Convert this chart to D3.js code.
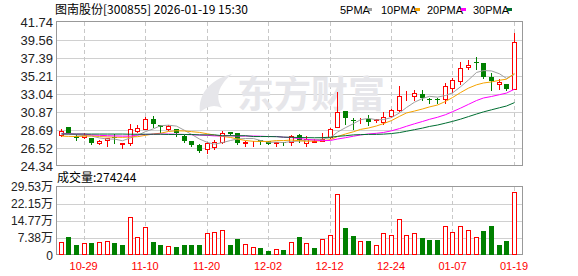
<!DOCTYPE html>
<html>
<head>
<meta charset="utf-8">
<script src="https://cdn.jsdelivr.net/npm/d3@7/dist/d3.min.js"></script>
<style>
body { margin: 0; background: #fff; }
svg { display: block; }
</style>
</head>
<body>
<div id="chart"></div>
<script>
// trading days shown
var dates = ["10-24","10-27","10-28","10-29","10-30","10-31","11-03","11-04","11-05","11-06",
    "11-07","11-10","11-11","11-12","11-13","11-14","11-17","11-18","11-19","11-20",
    "11-21","11-24","11-25","11-26","11-27","11-28","12-01","12-02","12-03","12-04",
    "12-05","12-08","12-09","12-10","12-11","12-12","12-15","12-16","12-17","12-18",
    "12-19","12-22","12-23","12-24","12-25","12-26","12-29","12-30","12-31","01-05",
    "01-06","01-07","01-08","01-09","01-12","01-13","01-14","01-15","01-16","01-19"];

var open = [28.11,29.00,28.00,27.82,27.75,27.10,27.50,27.80,27.00,27.09,
    28.55,28.84,29.97,29.33,28.80,28.80,27.94,27.42,26.85,26.36,
    26.69,27.30,28.40,28.30,27.09,27.20,27.46,27.38,27.07,27.25,
    27.21,28.11,27.06,27.30,27.42,27.82,29.10,30.94,29.90,29.85,
    30.00,29.85,29.64,30.41,31.15,32.88,32.85,33.08,32.40,32.40,
    32.48,33.82,34.66,36.30,36.90,36.80,35.10,34.30,34.20,33.69];
var high = [28.88,29.05,28.35,28.47,27.75,27.60,27.75,28.27,27.20,29.48,
    29.36,30.37,30.49,29.45,29.36,28.90,28.23,27.42,27.06,27.42,
    27.60,28.72,28.50,28.40,27.50,27.54,27.60,27.40,27.42,27.38,
    28.23,28.35,28.10,27.70,28.45,29.00,33.40,31.06,30.25,30.30,
    30.65,30.15,30.94,31.39,34.10,33.57,33.60,33.70,32.70,32.70,
    34.50,35.10,37.00,37.25,37.65,36.85,35.70,35.00,34.40,40.49];
var low = [27.95,28.30,27.50,27.75,26.97,26.97,26.73,27.10,26.50,26.93,
    28.39,28.76,29.03,28.43,28.63,27.94,27.21,26.73,26.00,25.96,
    26.40,27.09,28.06,26.97,26.70,26.81,27.00,26.97,26.81,26.90,
    26.93,27.21,26.81,27.20,27.35,27.70,29.00,29.45,28.84,29.50,
    29.24,29.60,29.36,30.25,30.97,32.27,32.27,32.27,31.90,31.90,
    31.99,33.28,34.30,36.12,36.12,35.00,33.50,33.60,33.50,33.60];
var close = [28.60,28.30,27.75,28.06,27.10,27.42,27.75,27.70,27.10,28.84,
    28.88,29.97,29.36,29.00,29.16,28.30,27.42,26.90,26.21,27.09,
    27.30,28.35,28.16,27.09,27.25,27.30,27.18,27.02,27.20,27.15,
    27.94,27.50,27.55,27.40,27.60,28.84,30.86,30.13,29.85,29.95,
    29.70,29.97,30.29,31.06,32.76,32.96,33.16,32.55,32.35,32.30,
    33.97,34.70,36.24,36.50,36.80,35.10,34.60,34.50,33.70,39.28];

// shares
var volume = [54800,77800,43000,50000,52000,55000,59000,52000,43000,163000,
    78000,121000,56000,43000,39000,36000,43000,43000,43000,94000,
    102000,107000,43000,69000,46000,33000,30000,17000,24500,21600,
    55000,78000,50000,30000,69000,89000,267000,117000,82000,60500,
    60500,43000,94000,89000,156000,85000,94000,73500,65000,65000,
    124000,102000,128000,107000,78000,104000,125000,43000,60500,274244];

var ma5 = [28.30,28.25,28.10,28.00,27.96,27.73,27.60,27.59,27.39,27.74,
    28.03,28.50,28.83,29.21,29.27,29.16,28.65,28.16,27.60,27.18,
    26.98,27.17,27.42,27.60,27.66,27.66,27.42,27.20,27.22,27.17,
    27.30,27.36,27.46,27.50,27.59,27.77,28.44,28.97,29.46,29.93,
    30.10,29.92,29.95,30.19,30.76,31.41,32.05,32.50,32.76,32.66,
    32.87,33.17,33.91,34.74,35.64,35.87,35.83,35.48,34.92,35.42];
var ma10 = [27.95,27.92,27.90,27.95,27.98,27.90,27.85,27.82,27.80,27.85,
    27.88,28.05,28.21,28.30,28.51,28.60,28.57,28.49,28.40,28.23,
    28.07,27.91,27.79,27.60,27.42,27.32,27.30,27.31,27.41,27.41,
    27.48,27.39,27.33,27.36,27.38,27.53,27.90,28.21,28.48,28.76,
    28.93,29.18,29.46,29.83,30.34,30.75,30.98,31.23,31.48,31.71,
    32.14,32.61,33.21,33.75,34.15,34.37,34.50,34.70,34.83,35.53];
var ma20 = [28.22,28.22,28.20,28.20,28.10,28.05,28.00,27.98,27.95,27.95,
    28.10,28.15,28.18,28.20,28.20,28.18,28.15,28.12,28.08,28.04,
    27.98,27.98,28.00,27.95,27.96,27.96,27.94,27.90,27.91,27.82,
    27.77,27.65,27.56,27.48,27.40,27.43,27.60,27.76,27.94,28.09,
    28.21,28.29,28.39,28.59,28.86,29.14,29.44,29.72,29.98,30.23,
    30.54,30.90,31.33,31.79,32.25,32.56,32.74,32.96,33.15,33.62];
var ma30 = [28.20,28.20,28.20,28.20,28.20,28.20,28.20,28.20,28.20,28.18,
    28.18,28.18,28.18,28.18,28.15,28.15,28.15,28.15,28.10,28.10,
    28.10,28.00,28.00,28.00,28.00,27.90,27.90,27.90,27.88,27.83,
    27.81,27.78,27.77,27.75,27.77,27.82,27.92,28.00,28.10,28.13,
    28.16,28.16,28.19,28.26,28.38,28.54,28.73,28.92,29.12,29.29,
    29.52,29.73,30.00,30.31,30.62,30.88,31.13,31.38,31.59,32.00];

var dateTicks = ["10-29","11-10","11-20","12-02","12-12","12-24","01-07","01-19"];
var priceTicks = [24.34,26.52,28.69,30.87,33.04,35.21,37.39,39.56,41.74];
var volTicks = [0,73825,147650,221475,295300];
var volTickLabels = ["0","7.38万","14.77万","22.15万","29.53万"];

var svgWidth = 578, svgHeight = 276;
var left = 56, right = 522;
var pTop = 22, pBot = 166;
var vTop = 187, vBot = 255;

var RED = "#ff0000", GREEN = "#008000";
var maColors = ["#a0a0a0", "#f5a300", "#ff00ff", "#006e32"];

var svg = d3.select("#chart").append("svg")
    .attr("width", svgWidth)
    .attr("height", svgHeight)
    .style("font-family", "'Liberation Sans', 'Noto Sans CJK SC', sans-serif");

var x = d3.scaleBand()
    .domain(dates)
    .range([56.7, 517.8])
    .paddingInner(0.35)
    .paddingOuter(0.175);
var y = d3.scaleLinear().domain([24.34, 41.74]).range([pBot, pTop]);
var yv = d3.scaleLinear().domain([0, 295300]).range([vBot, vTop]);

function cx(d) { return Math.round(x(d) + x.bandwidth() / 2); }
function py(v) { return Math.round(v) + 0.5; }

var rows = dates.map(function (d, i) {
    return { date: d, o: open[i], h: high[i], l: low[i], c: close[i], v: volume[i],
        up: close[i] >= open[i],
        vup: i === 0 ? close[i] >= open[i] : close[i] >= close[i - 1] };
});

// title + legend
svg.append("text")
    .attr("x", 55).attr("y", 14)
    .style("font-family", "'Noto Sans CJK SC', sans-serif")
    .style("font-size", "12px")
    .attr("fill", "#000")
    .text("图南股份[300855] 2026-01-19 15:30");

var legendNames = ["5PMA", "10PMA", "20PMA", "30PMA"];
var legendX = [340, 381, 427, 473];
var legendBox = [367, 415, 461, 507];
legendNames.forEach(function (n, i) {
    svg.append("text")
        .attr("x", legendX[i]).attr("y", 14)
        .style("font-size", "11px")
        .attr("fill", "#000")
        .text(n);
    svg.append("rect")
        .attr("x", legendBox[i]).attr("y", 8)
        .attr("width", 5).attr("height", 3)
        .attr("fill", maColors[i]);
});

// grid
var grid = svg.append("g").attr("shape-rendering", "crispEdges");
grid.selectAll(".hp").data(priceTicks.slice(1, -1)).enter().append("line")
    .attr("x1", left).attr("x2", right)
    .attr("y1", function (d) { return py(y(d)); })
    .attr("y2", function (d) { return py(y(d)); })
    .attr("stroke", "#d0d0d0");
grid.selectAll(".hv").data(volTicks.slice(1, -1)).enter().append("line")
    .attr("x1", left).attr("x2", right)
    .attr("y1", function (d) { return py(yv(d)); })
    .attr("y2", function (d) { return py(yv(d)); })
    .attr("stroke", "#d0d0d0");
[[pTop, pBot], [vTop, vBot]].forEach(function (r) {
    grid.selectAll(null).data(dateTicks).enter().append("line")
        .attr("x1", function (d) { return cx(d) + 0.5; })
        .attr("x2", function (d) { return cx(d) + 0.5; })
        .attr("y1", r[0]).attr("y2", r[1])
        .attr("stroke", "#c8c8c8")
        .attr("stroke-dasharray", "4,3");
});

// watermark
var wm = svg.append("g").attr("fill", "#e6e6ea");
wm.append("path")
    .attr("d", "M200,112 C198,96 208,80 232,74 C220,84 214,96 222,108 C214,104 208,106 200,112 Z");
wm.append("text")
    .attr("x", 237).attr("y", 108)
    .style("font-family", "'Noto Sans CJK SC', sans-serif")
    .style("font-size", "37px")
    .style("font-weight", "bold")
    .text("东方财富");

// frames
svg.append("rect")
    .attr("x", left + 0.5).attr("y", pTop - 0.5)
    .attr("width", right - left).attr("height", pBot - pTop)
    .attr("fill", "none").attr("stroke", "#999")
    .attr("shape-rendering", "crispEdges");
svg.append("rect")
    .attr("x", left + 0.5).attr("y", vTop - 0.5)
    .attr("width", right - left).attr("height", vBot - vTop)
    .attr("fill", "none").attr("stroke", "#999")
    .attr("shape-rendering", "crispEdges");

// candles
var candles = svg.append("g").attr("shape-rendering", "crispEdges");
var cg = candles.selectAll("g").data(rows).enter().append("g");
cg.append("line")
    .attr("x1", function (d) { return cx(d.date) + 0.5; })
    .attr("x2", function (d) { return cx(d.date) + 0.5; })
    .attr("y1", function (d) { return py(y(d.h)); })
    .attr("y2", function (d) { return py(y(d.l)); })
    .attr("stroke", function (d) { return d.up ? RED : GREEN; });
cg.append("rect")
    .attr("x", function (d) { return d.up ? cx(d.date) - 1.5 : cx(d.date) - 2; })
    .attr("width", function (d) { return d.up ? 4 : 5; })
    .attr("y", function (d) {
        var t = Math.round(y(Math.max(d.o, d.c)));
        return d.up ? t + 0.5 : t;
    })
    .attr("height", function (d) {
        var t = Math.round(y(Math.max(d.o, d.c)));
        var b = Math.round(y(Math.min(d.o, d.c)));
        return d.up ? Math.max(b - t, 0) : Math.max(b - t, 1);
    })
    .attr("fill", function (d) { return d.up ? "#fff" : GREEN; })
    .attr("stroke", function (d) { return d.up ? RED : "none"; });

// moving averages
[ma5, ma10, ma20, ma30].forEach(function (ma, k) {
    var line = d3.line()
        .x(function (v, i) { return cx(dates[i]) + 0.5; })
        .y(function (v) { return y(v); });
    svg.append("path")
        .datum(ma)
        .attr("d", line)
        .attr("fill", "none")
        .attr("stroke", maColors[k])
        .attr("stroke-width", 1);
});

// volume
var vol = svg.append("g").attr("shape-rendering", "crispEdges");
vol.selectAll("rect").data(rows).enter().append("rect")
    .attr("x", function (d) { return d.vup ? cx(d.date) - 1.5 : cx(d.date) - 2; })
    .attr("width", function (d) { return d.vup ? 4 : 5; })
    .attr("y", function (d) {
        var t = Math.round(yv(d.v));
        return d.vup ? t + 0.5 : t;
    })
    .attr("height", function (d) {
        var t = Math.round(yv(d.v));
        return d.vup ? vBot - 0.5 - (t + 0.5) : vBot - t;
    })
    .attr("fill", function (d) { return d.vup ? "#fff" : GREEN; })
    .attr("stroke", function (d) { return d.vup ? RED : "none"; });

svg.append("text")
    .attr("x", 57).attr("y", 182)
    .style("font-family", "'Noto Sans CJK SC', sans-serif")
    .style("font-size", "12px")
    .attr("fill", "#000")
    .text("成交量:274244");

// axes
var yAxis = d3.axisLeft(y).tickValues(priceTicks).tickSize(0).tickPadding(3)
    .tickFormat(d3.format(".2f"));
var ga = svg.append("g").attr("transform", "translate(" + left + ",0)").call(yAxis);
ga.select(".domain").remove();
ga.selectAll("text").style("font-size", "13px").attr("fill", "#222")
    .style("font-family", "'Liberation Sans', 'Noto Sans CJK SC', sans-serif");

var vAxis = d3.axisLeft(yv).tickValues(volTicks).tickSize(0).tickPadding(3)
    .tickFormat(function (d, i) { return volTickLabels[i]; });
var gv = svg.append("g").attr("transform", "translate(" + left + ",0)").call(vAxis);
gv.select(".domain").remove();
gv.selectAll("text").style("font-size", "12px").attr("fill", "#222")
    .style("font-family", "'Liberation Sans', 'Noto Sans CJK SC', sans-serif");
gv.selectAll(".tick").filter(function (d) { return d === 0; }).select("text")
    .attr("dy", "0.5em").attr("y", -2);

var xAxis = d3.axisBottom(x).tickValues(dateTicks).tickSize(0).tickPadding(7);
var gx = svg.append("g").attr("transform", "translate(0," + vBot + ")").call(xAxis);
gx.select(".domain").remove();
gx.selectAll("text").style("font-size", "11px").attr("fill", RED)
    .style("font-family", "'Liberation Sans', sans-serif");
</script>
</body>
</html>
